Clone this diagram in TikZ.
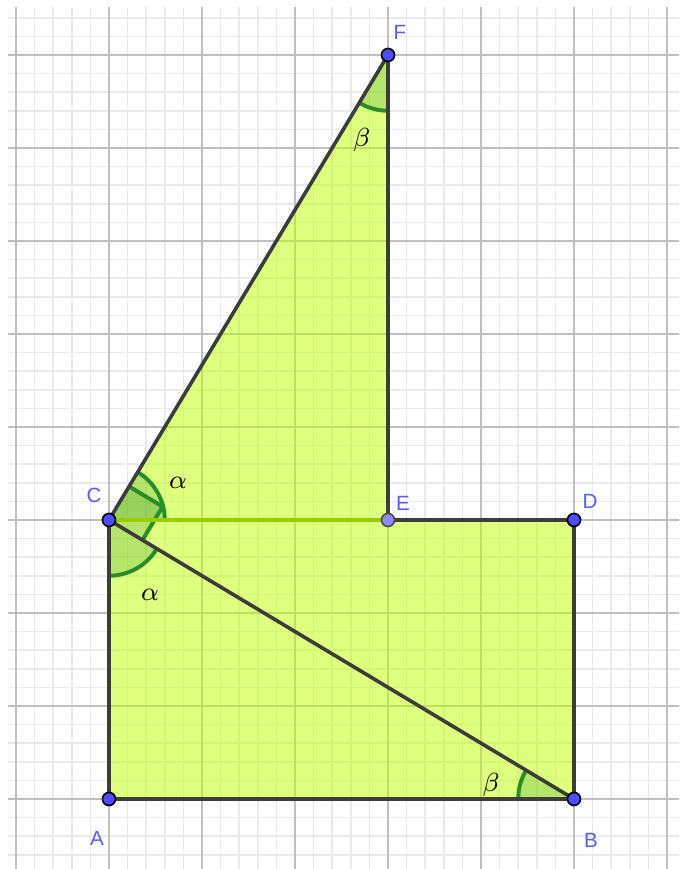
\documentclass[tikz,border=0pt]{standalone}
\usepackage{fontspec}
\setmainfont{Liberation Sans}
\definecolor{ptblue}{RGB}{77,77,255}
\definecolor{ptlight}{RGB}{140,140,255}
\definecolor{lblc}{RGB}{90,90,255}
\definecolor{edgec}{RGB}{60,60,60}
\definecolor{fillc}{RGB}{191,255,0}
\definecolor{cec}{RGB}{153,204,0}
\definecolor{arcc}{RGB}{40,140,40}
\definecolor{majg}{RGB}{192,192,192}
\definecolor{ming}{RGB}{234,234,234}
\begin{document}
\begin{tikzpicture}[x=1cm,y=1cm,
  edge/.style={draw=edgec,line width=1.1pt,line cap=round},
  cedge/.style={draw=cec,line width=1.3pt},
  secfill/.style={fill=arcc,fill opacity=0.22},
  secarc/.style={draw=arcc,line width=1.2pt},
  pt/.style={circle,fill=ptblue,draw=black,line width=0.5pt,inner sep=0pt,minimum size=0.14cm},
  ptl/.style={pt,fill=ptlight,draw=black!70},
  lab/.style={text=lblc,font=\fontsize{6.3}{7}\selectfont,inner sep=0pt},
  gr/.style={font=\fontsize{8.5}{9}\selectfont,inner sep=0pt}]
\useasboundingbox (-1.172,-0.753) rectangle (6.129,8.591);
% grid
\begin{scope}
\clip (-1.086,-0.753) rectangle (6.129,8.505);
\draw[ming,line width=0.5pt] (-1.2,-0.8) grid[step=0.2] (6.2,8.6);
\draw[majg,line width=0.6pt] (-1.2,-0.8) grid[step=1] (6.2,8.6);
\end{scope}
% points
\coordinate (A) at (0,0);
\coordinate (B) at (5,0);
\coordinate (C) at (0,3);
\coordinate (D) at (5,3);
\coordinate (E) at (3,3);
\coordinate (F) at (3,8);
% polygon fill
\fill[fillc,fill opacity=0.5] (A) -- (B) -- (D) -- (E) -- (F) -- (C) -- cycle;
% angle sectors
\fill[secfill] (C) -- ++(0:0.6) arc[start angle=0,end angle=59.036,radius=0.6] -- cycle;
\fill[secfill] (C) -- ++(270:0.6) arc[start angle=270,end angle=329.036,radius=0.6] -- cycle;
\fill[secfill] (F) -- ++(239.036:0.6) arc[start angle=239.036,end angle=270,radius=0.6] -- cycle;
\fill[secfill] (B) -- ++(149.036:0.6) arc[start angle=149.036,end angle=180,radius=0.6] -- cycle;
\fill[secfill] (C) -- ++(59.036:0.42) -- ++(-30.964:0.42) -- ++(239.036:0.42) -- cycle;
\draw[secarc] (C) ++(0:0.6) arc[start angle=0,end angle=59.036,radius=0.6];
\draw[secarc] (C) ++(270:0.6) arc[start angle=270,end angle=329.036,radius=0.6];
\draw[secarc] (F) ++(239.036:0.6) arc[start angle=239.036,end angle=270,radius=0.6];
\draw[secarc] (B) ++(149.036:0.6) arc[start angle=149.036,end angle=180,radius=0.6];
\draw[secarc] (C) ++(59.036:0.42) -- ++(-30.964:0.42) -- ++(239.036:0.42);
% edges
\draw[edge] (A) -- (B);
\draw[edge] (B) -- (D);
\draw[edge] (D) -- (E);
\draw[edge] (E) -- (F);
\draw[edge] (F) -- (C);
\draw[edge] (C) -- (A);
\draw[edge] (C) -- (B);
\draw[cedge] (C) -- (E);
% point markers
\node[pt] (pA) at (A) {};
\node[pt] (pB) at (B) {};
\node[pt] (pC) at (C) {};
\node[pt] (pD) at (D) {};
\node[ptl] (pE) at (E) {};
\node[pt] (pF) at (F) {};
% labels
\node[lab] (lA) at (-0.129,-0.419) {A};
\node[lab] (lB) at (5.183,-0.441) {B};
\node[lab] (lC) at (-0.161,3.269) {C};
\node[lab] (lD) at (5.172,3.204) {D};
\node[lab] (lE) at (3.161,3.183) {E};
\node[lab] (lF) at (3.129,8.237) {F};
\node[gr] (a1) at (0.742,3.398) {$\alpha$};
\node[gr] (a2) at (0.441,2.194) {$\alpha$};
\node[gr] (b1) at (2.72,7.086) {$\beta$};
\node[gr] (b2) at (4.108,0.151) {$\beta$};
\end{tikzpicture}
\end{document}
